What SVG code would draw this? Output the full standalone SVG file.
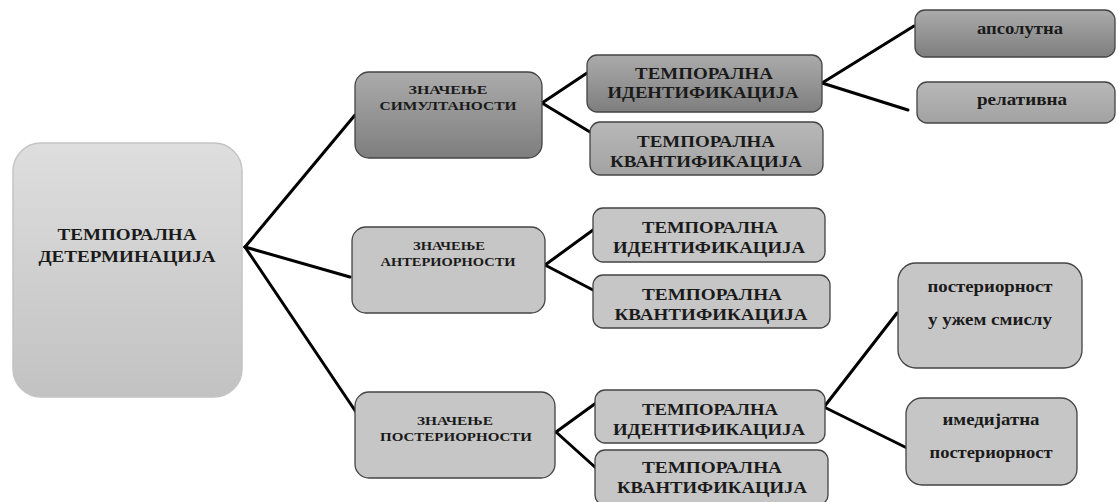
<svg xmlns="http://www.w3.org/2000/svg" width="1118" height="502" viewBox="0 0 1118 502">
<defs>
<linearGradient id="gRoot" x1="0" y1="0" x2="0" y2="1"><stop offset="0" stop-color="#dedede"/><stop offset="1" stop-color="#c2c2c2"/></linearGradient>
<linearGradient id="gDark" x1="0" y1="0" x2="0" y2="1"><stop offset="0" stop-color="#ababab"/><stop offset="1" stop-color="#7e7e7e"/></linearGradient>
<linearGradient id="gMid" x1="0" y1="0" x2="0" y2="1"><stop offset="0" stop-color="#b8b8b8"/><stop offset="1" stop-color="#a2a2a2"/></linearGradient>
<style>
.root{fill:url(#gRoot);stroke:#c4c4c4;stroke-width:1.5}
.dark{fill:url(#gDark);stroke:#444;stroke-width:1.3}
.mid{fill:url(#gMid);stroke:#444;stroke-width:1.3}
.light{fill:#c6c6c6;stroke:#444;stroke-width:1.3}
text{font-family:"Liberation Serif","Times New Roman",serif;font-weight:bold;fill:#1a1a1a;text-anchor:middle}
.big{font-size:17px}
.small{font-size:12px}
.low{font-size:17px}
.conn line{stroke:#000;stroke-width:3;stroke-linecap:round}
</style>
</defs>
<g class="conn" id="connectors">
<line x1="245" y1="247" x2="355" y2="115"/>
<line x1="245" y1="247" x2="350" y2="277"/>
<line x1="245" y1="247" x2="356" y2="412"/>
<line x1="542" y1="103" x2="587" y2="73"/>
<line x1="542" y1="103" x2="590" y2="132"/>
<line x1="822" y1="83" x2="914" y2="26"/>
<line x1="822" y1="83" x2="908" y2="110"/>
<line x1="545" y1="265" x2="593" y2="230"/>
<line x1="545" y1="265" x2="593" y2="290"/>
<line x1="556" y1="432" x2="596" y2="403"/>
<line x1="556" y1="432" x2="596" y2="468"/>
<line x1="824" y1="407" x2="897" y2="313"/>
<line x1="824" y1="407" x2="907" y2="448"/>
</g>
<g id="root">
<rect class="root" x="13" y="143" width="229" height="254" rx="28"/>
<text class="big" x="127" y="240" textLength="139" lengthAdjust="spacingAndGlyphs">ТЕМПОРАЛНА</text>
<text class="big" x="127" y="262" textLength="177" lengthAdjust="spacingAndGlyphs">ДЕТЕРМИНАЦИЈА</text>
</g>
<g id="simultaneity">
<rect class="dark" x="355" y="72" width="187" height="86" rx="14"/>
<text class="small" x="448" y="94" textLength="79" lengthAdjust="spacingAndGlyphs">ЗНАЧЕЊЕ</text>
<text class="small" x="448" y="110" textLength="137" lengthAdjust="spacingAndGlyphs">СИМУЛТАНОСТИ</text>
</g>
<g id="sim-ident">
<rect class="dark" x="587" y="55" width="235" height="57" rx="10"/>
<text class="big" x="704" y="79" textLength="138" lengthAdjust="spacingAndGlyphs">ТЕМПОРАЛНА</text>
<text class="big" x="703" y="98" textLength="191" lengthAdjust="spacingAndGlyphs">ИДЕНТИФИКАЦИЈА</text>
</g>
<g id="sim-quant">
<rect class="mid" x="590" y="122" width="233" height="53" rx="10"/>
<text class="big" x="706" y="147" textLength="138" lengthAdjust="spacingAndGlyphs">ТЕМПОРАЛНА</text>
<text class="big" x="706" y="167" textLength="192" lengthAdjust="spacingAndGlyphs">КВАНТИФИКАЦИЈА</text>
</g>
<g id="absolute">
<rect class="dark" x="915" y="10" width="200" height="47" rx="10"/>
<text class="low" x="1020" y="34" textLength="86" lengthAdjust="spacingAndGlyphs">апсолутна</text>
</g>
<g id="relative">
<rect class="mid" x="917" y="82" width="198" height="41" rx="10"/>
<text class="low" x="1022" y="105" textLength="90" lengthAdjust="spacingAndGlyphs">релативна</text>
</g>
<g id="anteriority">
<rect class="light" x="352" y="227" width="193" height="86" rx="14"/>
<text class="small" x="449" y="250" textLength="72" lengthAdjust="spacingAndGlyphs">ЗНАЧЕЊЕ</text>
<text class="small" x="448" y="266" textLength="135" lengthAdjust="spacingAndGlyphs">АНТЕРИОРНОСТИ</text>
</g>
<g id="ant-ident">
<rect class="light" x="593" y="208" width="232" height="54" rx="10"/>
<text class="big" x="710" y="233" textLength="136" lengthAdjust="spacingAndGlyphs">ТЕМПОРАЛНА</text>
<text class="big" x="709" y="253" textLength="192" lengthAdjust="spacingAndGlyphs">ИДЕНТИФИКАЦИЈА</text>
</g>
<g id="ant-quant">
<rect class="light" x="593" y="275" width="237" height="53" rx="10"/>
<text class="big" x="712" y="300" textLength="140" lengthAdjust="spacingAndGlyphs">ТЕМПОРАЛНА</text>
<text class="big" x="711" y="320" textLength="193" lengthAdjust="spacingAndGlyphs">КВАНТИФИКАЦИЈА</text>
</g>
<g id="posteriority">
<rect class="light" x="355" y="392" width="200" height="86" rx="14"/>
<text class="small" x="455" y="425" textLength="76" lengthAdjust="spacingAndGlyphs">ЗНАЧЕЊЕ</text>
<text class="small" x="456" y="441" textLength="152" lengthAdjust="spacingAndGlyphs">ПОСТЕРИОРНОСТИ</text>
</g>
<g id="post-ident">
<rect class="light" x="595" y="390" width="230" height="53" rx="10"/>
<text class="big" x="710" y="415" textLength="136" lengthAdjust="spacingAndGlyphs">ТЕМПОРАЛНА</text>
<text class="big" x="709" y="435" textLength="192" lengthAdjust="spacingAndGlyphs">ИДЕНТИФИКАЦИЈА</text>
</g>
<g id="post-quant">
<rect class="light" x="595" y="450" width="233" height="55" rx="10"/>
<text class="big" x="712" y="473" textLength="140" lengthAdjust="spacingAndGlyphs">ТЕМПОРАЛНА</text>
<text class="big" x="712" y="493" textLength="190" lengthAdjust="spacingAndGlyphs">КВАНТИФИКАЦИЈА</text>
</g>
<g id="post-narrow">
<rect class="light" x="898" y="263" width="184" height="105" rx="18"/>
<text class="low" x="990" y="292" textLength="125" lengthAdjust="spacingAndGlyphs">постериорност</text>
<text class="low" x="990" y="325" textLength="124" lengthAdjust="spacingAndGlyphs">у ужем смислу</text>
</g>
<g id="post-immediate">
<rect class="light" x="906" y="398" width="171" height="87" rx="16"/>
<text class="low" x="991" y="425" textLength="97" lengthAdjust="spacingAndGlyphs">имедијатна</text>
<text class="low" x="991" y="458" textLength="123" lengthAdjust="spacingAndGlyphs">постериорност</text>
</g>
</svg>
